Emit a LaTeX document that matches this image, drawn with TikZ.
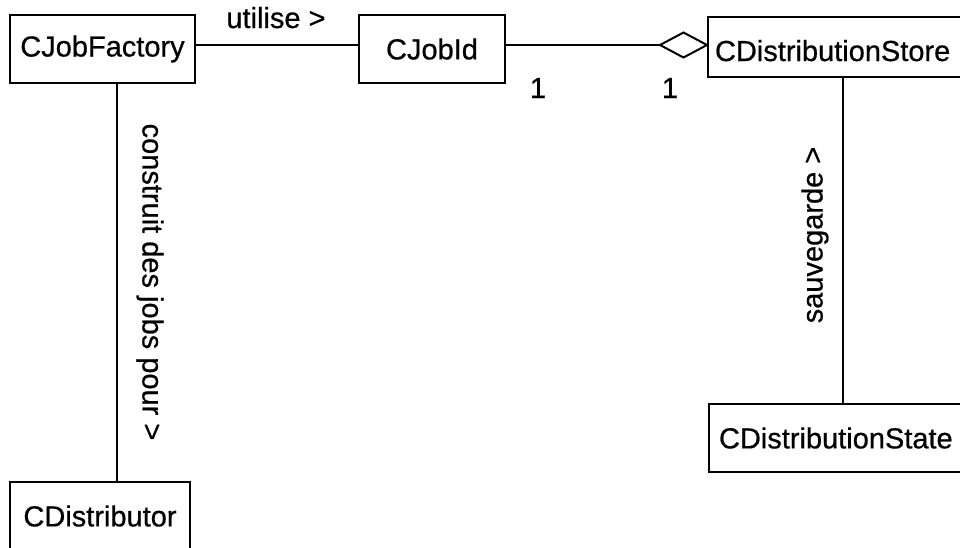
\documentclass[tikz,border=0pt]{standalone}
\usepackage{fontspec}
\setmainfont{Liberation Sans}[FakeBold=0.6]
\begin{document}
\begin{tikzpicture}[x=1pt,y=-1pt,
  every node/.style={font=\fontsize{29}{34}\selectfont},
  umlbox/.style={draw,line width=2pt,rectangle,inner sep=0pt,fill=white},
  conn/.style={line width=2pt},
  lbl/.style={inner sep=0pt}]
\useasboundingbox (0,0) rectangle (960,547);
\clip (0,0) rectangle (960,547);
% classes
\node[umlbox,minimum width=185pt,minimum height=68pt] (jf) at (102.5,49) {CJobFactory};
\node[umlbox,minimum width=146pt,minimum height=68pt] (ji) at (432,49) {CJobId};
\node[umlbox,anchor=north west,minimum height=60pt,text width=272pt,align=left,inner xsep=7pt,text height=28pt,text depth=0pt] (ds) at (707,16) {CDistributionStore};
\node[umlbox,anchor=north west,minimum height=68pt,text width=270pt,align=left,inner xsep=10pt] (dst) at (708,403) {CDistributionState};
\node[umlbox,minimum width=180pt,minimum height=68pt] (dist) at (100,516) {CDistributor};
% connectors
\coordinate (dtip) at (ds.west |- 0,45);
\coordinate (dleft) at ([xshift=-47pt]dtip);
\draw[conn] (jf.east |- 0,45) -- (ji.west |- 0,45);
\draw[conn] (ji.east |- 0,45) -- (dleft);
\draw[conn,line join=miter] (dleft) -- ++(23.5,-12.5) -- (dtip) -- ++(-23.5,12.5) -- cycle;
\draw[conn] (jf.south -| 117,0) -- (dist.north -| 117,0);
\draw[conn] (ds.south -| 843,0) -- (dst.north -| 843,0);
% labels
\node[lbl,anchor=base] (l1) at (276,28) {utilise >};
\node[lbl,anchor=base] (m1) at (538,98) {1};
\node[lbl,anchor=base] (m2) at (670,98) {1};
\node[lbl,rotate=-90] (l2) at (150,282) {construit des jobs pour >};
\node[lbl,rotate=90] (l3) at (815,235) {sauvegarde >};
\end{tikzpicture}
\end{document}
